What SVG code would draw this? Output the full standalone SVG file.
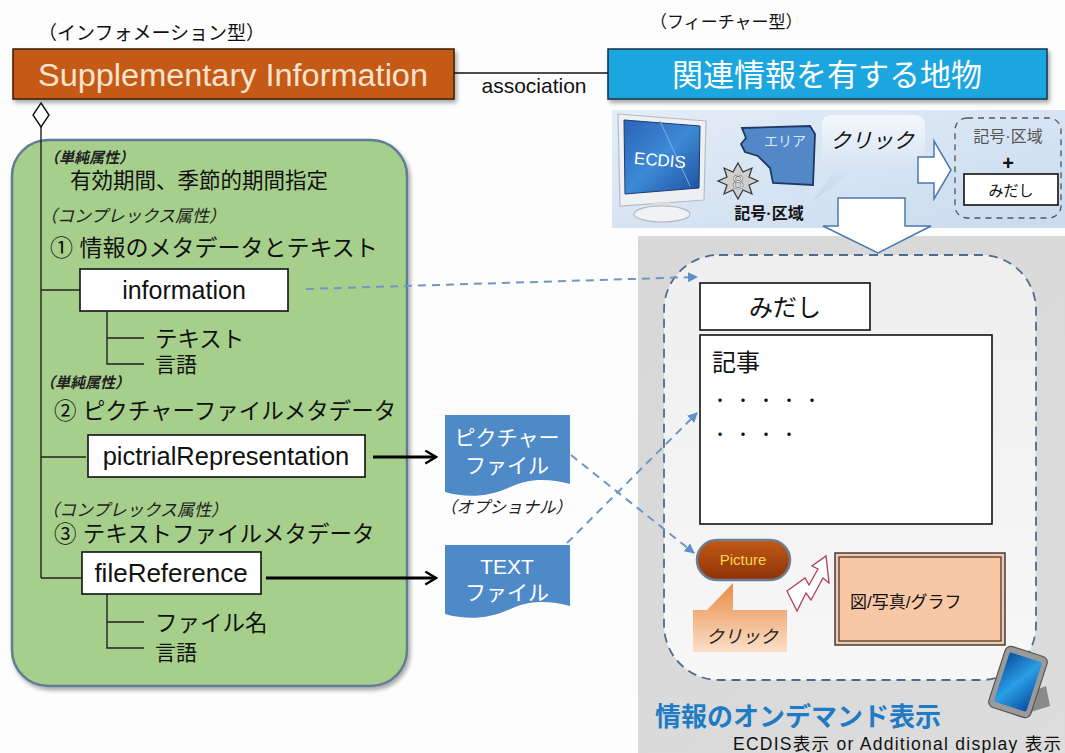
<svg xmlns="http://www.w3.org/2000/svg" width="1065" height="753" viewBox="0 0 1065 753">
  <defs>
    <style>
      .jp { font-family: "Liberation Sans", "Noto Sans CJK JP", sans-serif; }
      .lbl { font-family: "Liberation Sans", "Noto Sans CJK JP", sans-serif; fill: #111; }
      .note { font-family: "Liberation Sans", "Noto Sans CJK JP", sans-serif; font-style: italic; fill: #222; }
      .bold { font-weight: bold; }
      .box { fill: #ffffff; stroke: #111; stroke-width: 1.6; }
      .tree { fill: none; stroke: #222; stroke-width: 1.4; }
      .arrow { fill: none; stroke: #000; stroke-width: 3; marker-end: url(#open); }
      .dash { fill: none; stroke: #6f96c4; stroke-width: 2; stroke-dasharray: 8 6; marker-end: url(#blueTip); }
      .doc { fill: #4f8ac8; }
      .doctext { font-family: "Liberation Sans", "Noto Sans CJK JP", sans-serif; fill: #ffffff; font-size: 21px; text-anchor: middle; }
    </style>
    <marker id="open" viewBox="0 0 14 14" refX="12" refY="7" markerWidth="5" markerHeight="5" markerUnits="strokeWidth" orient="auto">
      <path d="M2,1 L12,7 L2,13" fill="none" stroke="#000" stroke-width="2.2"/>
    </marker>
    <marker id="blueTip" viewBox="0 0 10 10" refX="9" refY="5" markerWidth="5" markerHeight="5" markerUnits="strokeWidth" orient="auto">
      <path d="M0,0 L10,5 L0,10 Z" fill="#5d8fc9"/>
    </marker>
    <filter id="shadow" x="-5%" y="-20%" width="110%" height="150%">
      <feDropShadow dx="2" dy="3" stdDeviation="2" flood-color="#000" flood-opacity="0.35"/>
    </filter>
    <linearGradient id="panelTop" x1="0" y1="0" x2="1" y2="1">
      <stop offset="0" stop-color="#e4edf7"/>
      <stop offset="1" stop-color="#c9dbee"/>
    </linearGradient>
    <linearGradient id="panelGray" x1="0" y1="0" x2="1" y2="1">
      <stop offset="0" stop-color="#d8d8d8"/>
      <stop offset="1" stop-color="#dcdcdc"/>
    </linearGradient>
    <linearGradient id="innerFill" x1="0" y1="0" x2="0" y2="1">
      <stop offset="0" stop-color="#efefef"/>
      <stop offset="1" stop-color="#f7f7f7"/>
    </linearGradient>
    <linearGradient id="bubbleBlue" x1="0" y1="0" x2="0" y2="1">
      <stop offset="0" stop-color="#f4f8fc"/>
      <stop offset="1" stop-color="#c3d6ec"/>
    </linearGradient>
    <linearGradient id="screen" x1="0" y1="0" x2="1" y2="1">
      <stop offset="0" stop-color="#2a63b8"/>
      <stop offset="0.5" stop-color="#3d8ad6"/>
      <stop offset="1" stop-color="#1d4f9e"/>
    </linearGradient>
    <linearGradient id="pictureBtn" x1="0" y1="0" x2="0" y2="1">
      <stop offset="0" stop-color="#c25a16"/>
      <stop offset="1" stop-color="#8c3208"/>
    </linearGradient>
    <linearGradient id="clickOrange" x1="0" y1="0" x2="0" y2="1">
      <stop offset="0" stop-color="#e88a45"/>
      <stop offset="1" stop-color="#fbe0c8"/>
    </linearGradient>
    <linearGradient id="tabletScreen" x1="0" y1="0" x2="1" y2="1">
      <stop offset="0" stop-color="#0a4fa0"/>
      <stop offset="0.5" stop-color="#2a9ee6"/>
      <stop offset="1" stop-color="#0a4fa0"/>
    </linearGradient>
  </defs>

  <rect width="1065" height="753" fill="#fdfdfd"/>

  <!-- Display panels on the right -->
  <g id="panel-top">
    <rect x="612" y="110" width="453" height="118" fill="url(#panelTop)"/>
  </g>
  <g id="panel-display">
    <rect x="638" y="236" width="427" height="517" fill="url(#panelGray)"/>
    <rect x="664" y="255" width="372" height="425" rx="55" fill="url(#innerFill)" stroke="#4e6b8c" stroke-width="1.8" stroke-dasharray="9 6"/>
  </g>

  <!-- Type labels -->
  <text class="lbl" x="38" y="40" font-size="19">（インフォメーション型）</text>
  <text class="lbl" x="650" y="28" font-size="17">（フィーチャー型）</text>

  <!-- Information type node -->
  <g id="supplementary-information">
    <rect x="13" y="49" width="441" height="50" fill="#c45a18" stroke="#3a1a08" stroke-width="1.5" filter="url(#shadow)"/>
    <text class="jp" x="38" y="86" font-size="31" fill="#fbe3cf" textLength="390" lengthAdjust="spacingAndGlyphs">Supplementary Information</text>
  </g>

  <!-- Feature type node -->
  <g id="feature">
    <rect x="608" y="49" width="439" height="50" fill="#1fa6df" stroke="#10324a" stroke-width="1.5" filter="url(#shadow)"/>
    <text class="jp" x="827" y="86" font-size="31" fill="#ffffff" text-anchor="middle">関連情報を有する地物</text>
  </g>

  <!-- Attribute container -->
  <g id="attributes">
    <rect x="12" y="140" width="395" height="546" rx="36" fill="#a6cf8c" stroke="#5f7e96" stroke-width="2.5" filter="url(#shadow)"/>
    <text class="note bold" x="44" y="163" font-size="15">（単純属性）</text>
    <text class="lbl" x="70" y="188" font-size="21.5">有効期間、季節的期間指定</text>
    <text class="note" x="40" y="222" font-size="17">（コンプレックス属性）</text>
    <text class="lbl" x="50" y="256" font-size="23">① 情報のメタデータとテキスト</text>
    <text class="note bold" x="40" y="388" font-size="15">（単純属性）</text>
    <text class="lbl" x="54" y="419" font-size="22.5">② ピクチャーファイルメタデータ</text>
    <text class="note" x="42" y="516" font-size="17">（コンプレックス属性）</text>
    <text class="lbl" x="54" y="542" font-size="22.5">③ テキストファイルメタデータ</text>
  </g>

  <g id="information">
    <rect class="box" x="80" y="269" width="208" height="42"/>
    <text class="lbl" x="184" y="299" font-size="25" text-anchor="middle">information</text>
    <text class="lbl" x="155" y="347" font-size="22.5">テキスト</text>
    <text class="lbl" x="155" y="372" font-size="21">言語</text>
  </g>

  <g id="pictrialRepresentation">
    <rect class="box" x="88" y="435" width="277" height="42"/>
    <text class="lbl" x="226" y="465" font-size="25.5" text-anchor="middle">pictrialRepresentation</text>
  </g>

  <g id="fileReference">
    <rect class="box" x="82" y="552" width="179" height="42"/>
    <text class="lbl" x="171" y="582" font-size="26" text-anchor="middle">fileReference</text>
    <text class="lbl" x="155" y="631" font-size="22.5">ファイル名</text>
    <text class="lbl" x="155" y="660" font-size="21">言語</text>
  </g>

  <!-- File documents -->
  <g id="picture-file">
    <path class="doc" d="M445,415 H570 V484 C548,478 528,478 508,488 C488,497 466,498 445,492 Z"/>
    <text class="doctext" x="507" y="445">ピクチャー</text>
    <text class="doctext" x="507" y="473">ファイル</text>
    <text class="note" x="440" y="513" font-size="16.5">（オプショナル）</text>
  </g>

  <g id="text-file">
    <path class="doc" d="M445,545 H570 V606 C548,600 528,600 508,610 C488,619 466,620 445,614 Z"/>
    <text class="doctext" x="507" y="574">TEXT</text>
    <text class="doctext" x="507" y="600">ファイル</text>
  </g>

  <!-- ECDIS interaction strip -->
  <g id="ecdis-monitor">
    <path d="M618,114 L706,121 L704,200 L620,206 Z" fill="#eef0f2" stroke="#b8bcc2" stroke-width="1.2"/>
    <path d="M624,120 L700,126 L699,188 L625,194 Z" fill="url(#screen)" stroke="#1a3d72" stroke-width="1"/>
    <path d="M660,121 L690,186" stroke="#7fb0e6" stroke-width="1" fill="none"/>
    <text x="660" y="166" font-family="Liberation Sans, sans-serif" font-size="17" fill="#ffffff" text-anchor="middle" transform="rotate(5 660 160)">ECDIS</text>
    <path d="M652,203 L670,202 L670,208 L652,209 Z" fill="#d8dbe0"/>
    <ellipse cx="662" cy="214" rx="28" ry="8" fill="#f0f2f4" stroke="#b4b8be" stroke-width="1.2"/>
  </g>

  <g id="area">
    <path d="M742,128 L810,126 L815,134 L813,185 L773,183 L770,168 L758,156 L745,152 L741,144 L746,138 Z" fill="#5288c7" stroke="#1f3864" stroke-width="1.8"/>
    <text class="jp" x="785" y="146" font-size="14" fill="#dce9f7" text-anchor="middle">エリア</text>
  </g>

  <g id="symbol">
    <polygon points="738,163 743,172 752,168 749,177 758,181 749,185 752,194 743,190 738,199 733,190 724,194 727,185 718,181 727,177 724,168 733,172" fill="#cfcfcf" stroke="#333" stroke-width="1.2"/>
    <text x="738" y="189" font-family="Liberation Sans, sans-serif" font-size="21" fill="#ffffff" stroke="#666" stroke-width="0.6" text-anchor="middle">8</text>
    <text class="lbl bold" x="769" y="219" font-size="16" text-anchor="middle">記号·区域</text>
  </g>

  <g id="click-bubble">
    <path d="M832,115 H915 Q925,115 925,125 V155 Q925,165 915,165 H862 L812,202 L840,165 H832 Q822,165 822,155 V125 Q822,115 832,115 Z" fill="url(#bubbleBlue)"/>
    <text class="jp" x="872" y="148" font-size="21" font-style="italic" fill="#111" text-anchor="middle">クリック</text>
  </g>

  <g id="arrow-right">
    <path d="M918,157 H934 V141 L951,170 L934,199 V183 H918 Z" fill="#ffffff" stroke="#4a79ad" stroke-width="1.5"/>
  </g>

  <g id="symbol-heading">
    <rect x="955" y="118" width="106" height="100" rx="12" fill="none" stroke="#555" stroke-width="1.3" stroke-dasharray="6 5"/>
    <text class="jp" x="1008" y="142" font-size="16" fill="#555" text-anchor="middle">記号·区域</text>
    <text x="1008" y="170" font-family="Liberation Sans, sans-serif" font-size="20" font-weight="bold" fill="#111" text-anchor="middle">+</text>
    <rect class="box" x="964" y="174" width="94" height="31"/>
    <text class="lbl" x="1011" y="196" font-size="15" text-anchor="middle">みだし</text>
  </g>

  <g id="arrow-down">
    <path d="M838,198 H905 V226 H931 L878,253 L823,226 H838 Z" fill="#ffffff" stroke="#4a79ad" stroke-width="1.5"/>
  </g>

  <!-- On-demand display contents -->
  <g id="heading">
    <rect class="box" x="700" y="283" width="170" height="47"/>
    <text class="lbl" x="785" y="316" font-size="24" text-anchor="middle">みだし</text>
  </g>

  <g id="article">
    <rect class="box" x="700" y="335" width="292" height="189"/>
    <text class="lbl" x="712" y="371" font-size="24">記事</text>
    <text class="lbl" x="712" y="406" font-size="16" letter-spacing="7">・・・・・</text>
    <text class="lbl" x="712" y="440" font-size="16" letter-spacing="7">・・・・</text>
  </g>

  <g id="picture-button">
    <rect x="697" y="540" width="93" height="40" rx="20" fill="url(#pictureBtn)" stroke="#6b7d8f" stroke-width="2.5"/>
    <text x="743" y="565" font-family="Liberation Sans, sans-serif" font-size="15" fill="#ffd54a" text-anchor="middle">Picture</text>
  </g>

  <g id="click-callout">
    <path d="M693,610 H707 L733,583 V610 H787 V652 H693 Z" fill="url(#clickOrange)"/>
    <text class="jp" x="742" y="643" font-size="18" font-style="italic" fill="#222" text-anchor="middle">クリック</text>
  </g>

  <g id="jump-arrow">
    <path d="M787,591 L805,578 L809,585 L818,569 L812,566 L826,556 L829,583 L823,578 L811,600 L806,593 L797,611 Z" fill="#ffffff" stroke="#b0405a" stroke-width="1.3"/>
  </g>

  <g id="figure">
    <rect x="835" y="553" width="170" height="92" fill="#f8c7a5" stroke="#333" stroke-width="1.4"/>
    <rect x="839" y="557" width="162" height="84" fill="none" stroke="#333" stroke-width="1.2"/>
    <text class="lbl" x="850" y="608" font-size="17">図/写真/グラフ</text>
  </g>

  <g id="tablet">
    <path d="M1010,700 L1046,686 L1050,706 L1018,716 Z" fill="#8a8a8a"/>
    <g transform="rotate(18 1018 682)">
      <rect x="996" y="650" width="44" height="64" rx="6" fill="#9a9a9a" stroke="#555" stroke-width="1.2"/>
      <rect x="1001" y="656" width="34" height="52" rx="2" fill="url(#tabletScreen)"/>
    </g>
  </g>

  <text id="on-demand" x="655" y="726" font-family="Liberation Sans, Noto Sans CJK JP, sans-serif" font-size="26" font-weight="bold" fill="#1f7bc4">情報のオンデマンド表示</text>
  <text id="display-note" x="733" y="750" font-family="Liberation Sans, Noto Sans CJK JP, sans-serif" font-size="17.5" fill="#111" textLength="328" lengthAdjust="spacing">ECDIS表示 or  Additional display 表示</text>

  <!-- Connectors -->
  <g id="connectors">
    <!-- association -->
    <line x1="454" y1="73" x2="608" y2="73" stroke="#111" stroke-width="1.4"/>
    <text class="lbl" x="534" y="93" font-size="21" text-anchor="middle">association</text>
    <!-- aggregation diamond and attribute spine -->
    <path d="M41,103 L49,115 L41,127 L33,115 Z" fill="#ffffff" stroke="#111" stroke-width="1.4"/>
    <line class="tree" x1="41" y1="127" x2="41" y2="578"/>
    <line class="tree" x1="41" y1="290" x2="80" y2="290"/>
    <line class="tree" x1="41" y1="457" x2="86" y2="457"/>
    <line class="tree" x1="41" y1="578" x2="82" y2="578"/>
    <!-- information members -->
    <path class="tree" d="M107,311 V364 H144 M107,338 H144" stroke-width="2"/>
    <!-- fileReference members -->
    <path class="tree" d="M107,594 V648 H144 M107,622 H144" stroke-width="2"/>
    <!-- file arrows -->
    <line class="arrow" x1="373" y1="457" x2="436" y2="457"/>
    <line class="arrow" x1="266" y1="578" x2="436" y2="578"/>
    <!-- display links -->
    <path class="dash" d="M306,289 L697,277"/>
    <path class="dash" d="M571,455 L694,553"/>
    <path class="dash" d="M567,543 L697,413"/>
  </g>
</svg>
